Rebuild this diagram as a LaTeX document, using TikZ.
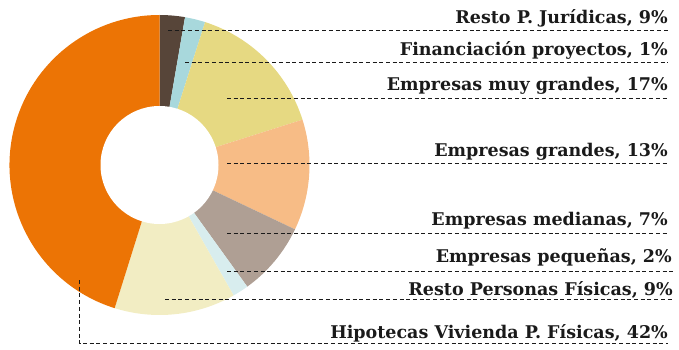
\documentclass[tikz,border=0pt]{standalone}
\usepackage{fontspec}
\setmainfont{DejaVu Serif}
\usetikzlibrary{calc}
\definecolor{cBrown}{HTML}{574539}
\definecolor{cBlue}{HTML}{A8D8DC}
\definecolor{cYellow}{HTML}{E6D982}
\definecolor{cPeach}{HTML}{F7BC86}
\definecolor{cTaupe}{HTML}{AF9F94}
\definecolor{cCyan}{HTML}{D8EDEE}
\definecolor{cCream}{HTML}{F2EDC3}
\definecolor{cOrange}{HTML}{EC7405}
\definecolor{cText}{HTML}{1A1A1A}
\newcommand{\wedgeslice}[3]{%
  \fill[#3] (c) -- ($(c)+(#1:150)$) arc[start angle=#1,end angle=#2,radius=150pt] -- cycle;}
\begin{document}
\begin{tikzpicture}[x=1pt,y=1pt,
  lbl/.style={anchor=base east,inner sep=0pt,font=\fontsize{17.5}{20}\selectfont\bfseries,text=cText},
  leader/.style={draw=cText,line width=1pt,dash pattern=on 4pt off 2.7pt}]
\useasboundingbox (0,0) rectangle (679,349);
\coordinate (c) at (159.5,184);
\wedgeslice{90}{80.2}{cBrown}
\wedgeslice{80.2}{72.3}{cBlue}
\wedgeslice{72.3}{17.6}{cYellow}
\wedgeslice{17.6}{-25.4}{cPeach}
\wedgeslice{-25.4}{-54.2}{cTaupe}
\wedgeslice{-54.2}{-60.4}{cCyan}
\wedgeslice{-60.4}{-107.4}{cCream}
\wedgeslice{-107.4}{-270}{cOrange}
\fill[white] (c) circle[radius=59pt];
% labels
\node[lbl] (L1) at (668,325.7) {Resto P. Jurídicas, 9\%};
\node[lbl] (L2) at (668,294) {Financiación proyectos, 1\%};
\node[lbl] (L3) at (668,259) {Empresas muy grandes, 17\%};
\node[lbl] (L4) at (668,193) {Empresas grandes, 13\%};
\node[lbl] (L5) at (668,123.3) {Empresas medianas, 7\%};
\node[lbl] (L6) at (672,86.7) {Empresas pequeñas, 2\%};
\node[lbl] (L7) at (673,53.3) {Resto Personas Físicas, 9\%};
\node[lbl] (L8) at (668,10.7) {Hipotecas Vivienda P. Físicas, 42\%};
% leader coordinates
\coordinate (S1) at (168,318.5);   \coordinate (E1) at (668,318.5);
\coordinate (S2) at (185,286.5); \coordinate (E2) at (668,286.5);
\coordinate (S3) at (227,250.5); \coordinate (E3) at (668,250.5);
\coordinate (S4) at (227,185.5); \coordinate (E4) at (668,185.5);
\coordinate (S5) at (227,115.5);   \coordinate (E5) at (668,115.5);
\coordinate (S6) at (227,77.5);  \coordinate (E6) at (673,77.5);
\coordinate (S7) at (165,49.5);    \coordinate (E7) at (674,49.5);
\coordinate (S8) at (79.5,69);     \coordinate (E8) at (668,5.5);
\draw[leader] (S1) -- (E1);
\draw[leader] (S2) -- (E2);
\draw[leader] (S3) -- (E3);
\draw[leader] (S4) -- (E4);
\draw[leader] (S5) -- (E5);
\draw[leader] (S6) -- (E6);
\draw[leader] (S7) -- (E7);
\draw[leader] (S8) |- (E8);
\end{tikzpicture}
\end{document}
